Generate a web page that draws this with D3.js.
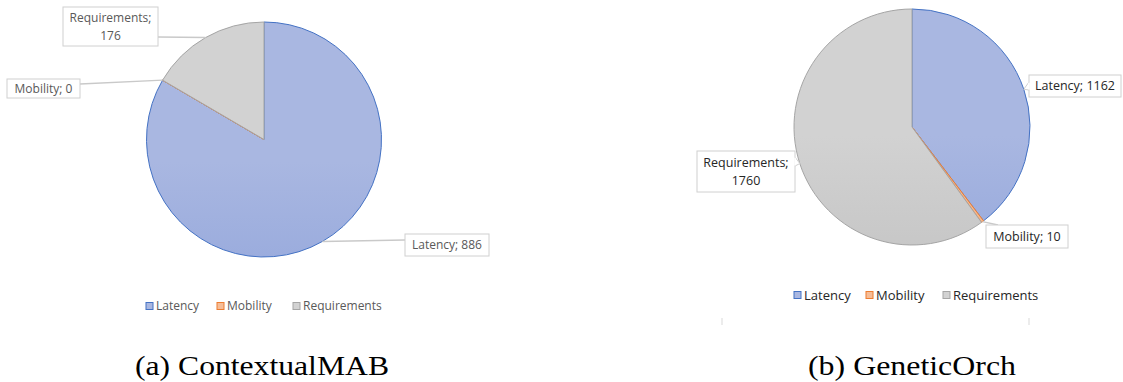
<!DOCTYPE html>
<html><head><meta charset="utf-8">
<script src="https://cdn.jsdelivr.net/npm/d3@7"></script>
<style>body{margin:0;background:#fff}svg{display:block}</style>
</head><body>
<svg id="c" width="1123" height="382"></svg>
<script>
const categories = ["Latency", "Mobility", "Requirements"];
const valuesA = [886, 0, 176];
const valuesB = [1162, 10, 1760];
const captions = ["(a) ContextualMAB", "(b) GeneticOrch"];

const svg = d3.select("#c");
const defs = svg.append("defs");
const fillTop = ["#a9b7e1", "#f6bd97", "#d2d2d2"];
const fillBot = ["#879dd8", "#f2a875", "#bbbbbb"];
const strokes = ["#4472c4", "#ed7d31", "#a5a5a5"];

function gradient(id, i, cy, r) {
  const g = defs.append("linearGradient").attr("id", id)
    .attr("gradientUnits", "userSpaceOnUse")
    .attr("x1", 0).attr("x2", 0).attr("y1", cy - r).attr("y2", cy + r);
  g.append("stop").attr("offset", 0).attr("stop-color", fillTop[i]);
  g.append("stop").attr("offset", 1).attr("stop-color", fillBot[i]);
}

function drawPie(opt) {
  const {values, cx, cy, r, key, labels, legend, txtColor, fs} = opt;
  categories.forEach((c, i) => gradient(key + i, i, cy, r));
  const pie = d3.pie().sort(null).value(d => d)(values);
  const arc = d3.arc().innerRadius(0).outerRadius(r);
  const g = svg.append("g").attr("transform", `translate(${cx},${cy})`);
  g.selectAll("path").data(pie).join("path")
    .attr("d", arc)
    .attr("fill", (d, i) => `url(#${key}${i})`)
    .attr("stroke", (d, i) => strokes[i])
    .attr("stroke-width", 1);

  pie.forEach((d, i) => {
    const L = labels[i];
    const a = (d.startAngle + d.endAngle) / 2;
    const px = cx + r * Math.sin(a), py = cy - r * Math.cos(a);
    const lines = L.two ? [categories[i] + ";", String(values[i])] : [categories[i] + "; " + values[i]];
    const lg = svg.append("g");
    if (L.leader) {
      lg.append("path")
        .attr("d", `M${px},${py}L${L.lx},${L.ly}`)
        .attr("stroke", "#c9c9c9").attr("stroke-width", 1.4).attr("fill", "none");
    }
    lg.append("rect").attr("x", L.x).attr("y", L.y).attr("width", L.w).attr("height", L.h)
      .attr("fill", "#fff").attr("stroke", "#d0d0d0").attr("stroke-width", 1);
    if (L.pointer) {
      const [ex, ey1, ey2] = L.pointer;
      lg.append("path")
        .attr("d", `M${ex},${ey1}L${px},${py}L${ex},${ey2}`)
        .attr("fill", "#fff").attr("stroke", "#d0d0d0").attr("stroke-width", 1);
      lg.append("line").attr("x1", ex).attr("x2", ex).attr("y1", ey1 + 0.6).attr("y2", ey2 - 0.6)
        .attr("stroke", "#fff").attr("stroke-width", 1.5);
    }
    lines.forEach((t, k) => {
      lg.append("text").attr("x", L.x + L.w / 2)
        .attr("y", L.y + L.h / 2 + (k - (lines.length - 1) / 2) * 18)
        .attr("dy", "0.35em").attr("text-anchor", "middle")
        .attr("font-family", "'Open Sans', 'Noto Sans', sans-serif")
        .attr("font-size", fs).attr("fill", txtColor).text(t);
    });
  });

  const lgd = svg.append("g");
  categories.forEach((c, i) => {
    const x = legend.xs[i];
    lgd.append("rect").attr("x", x).attr("y", legend.y - 3.5).attr("width", 7).attr("height", 7)
      .attr("fill", fillTop[i]).attr("stroke", strokes[i]).attr("stroke-width", 1);
    lgd.append("text").attr("x", x + 10).attr("y", legend.y).attr("dy", "0.35em")
      .attr("font-family", "'Open Sans', 'Noto Sans', sans-serif")
      .attr("font-size", legend.fs).attr("fill", txtColor).text(c);
  });
}

drawPie({
  values: valuesA, cx: 264, cy: 139.5, r: 117.5, key: "ga", txtColor: "#595959", fs: 12,
  labels: [
    {x: 405, y: 234, w: 84, h: 22, leader: true, lx: 405, ly: 240},
    {x: 7, y: 79, w: 73, h: 19, leader: true, lx: 80, ly: 84},
    {x: 63, y: 7, w: 95, h: 39, two: true, leader: true, lx: 158, ly: 37}
  ],
  legend: {y: 306, xs: [146, 217, 293], fs: 12}
});

drawPie({
  values: valuesB, cx: 912, cy: 127, r: 118, key: "gb", txtColor: "#262626", fs: 12.5,
  labels: [
    {x: 1029, y: 75, w: 92, h: 22, pointer: [1029, 82, 90]},
    {x: 986, y: 225, w: 82, h: 23, leader: true, lx: 998, ly: 225},
    {x: 697, y: 151, w: 98, h: 41, two: true, pointer: [795, 157, 166]}
  ],
  legend: {y: 295, xs: [794, 866, 943], fs: 13}
});

[722, 1029].forEach(x => svg.append("line").attr("x1", x).attr("x2", x)
  .attr("y1", 318).attr("y2", 325).attr("stroke", "#d9d9d9").attr("stroke-width", 1));

[[262, captions[0], 254], [912, captions[1], 208]].forEach(([x, t, len]) => {
  svg.append("text").attr("x", x).attr("y", 366).attr("dy", "0.35em")
    .attr("text-anchor", "middle")
    .attr("font-family", "'Liberation Serif', 'DejaVu Serif', serif")
    .attr("font-size", 27).attr("fill", "#000")
    .attr("textLength", len).attr("lengthAdjust", "spacingAndGlyphs").text(t);
});
</script>
</body></html>
